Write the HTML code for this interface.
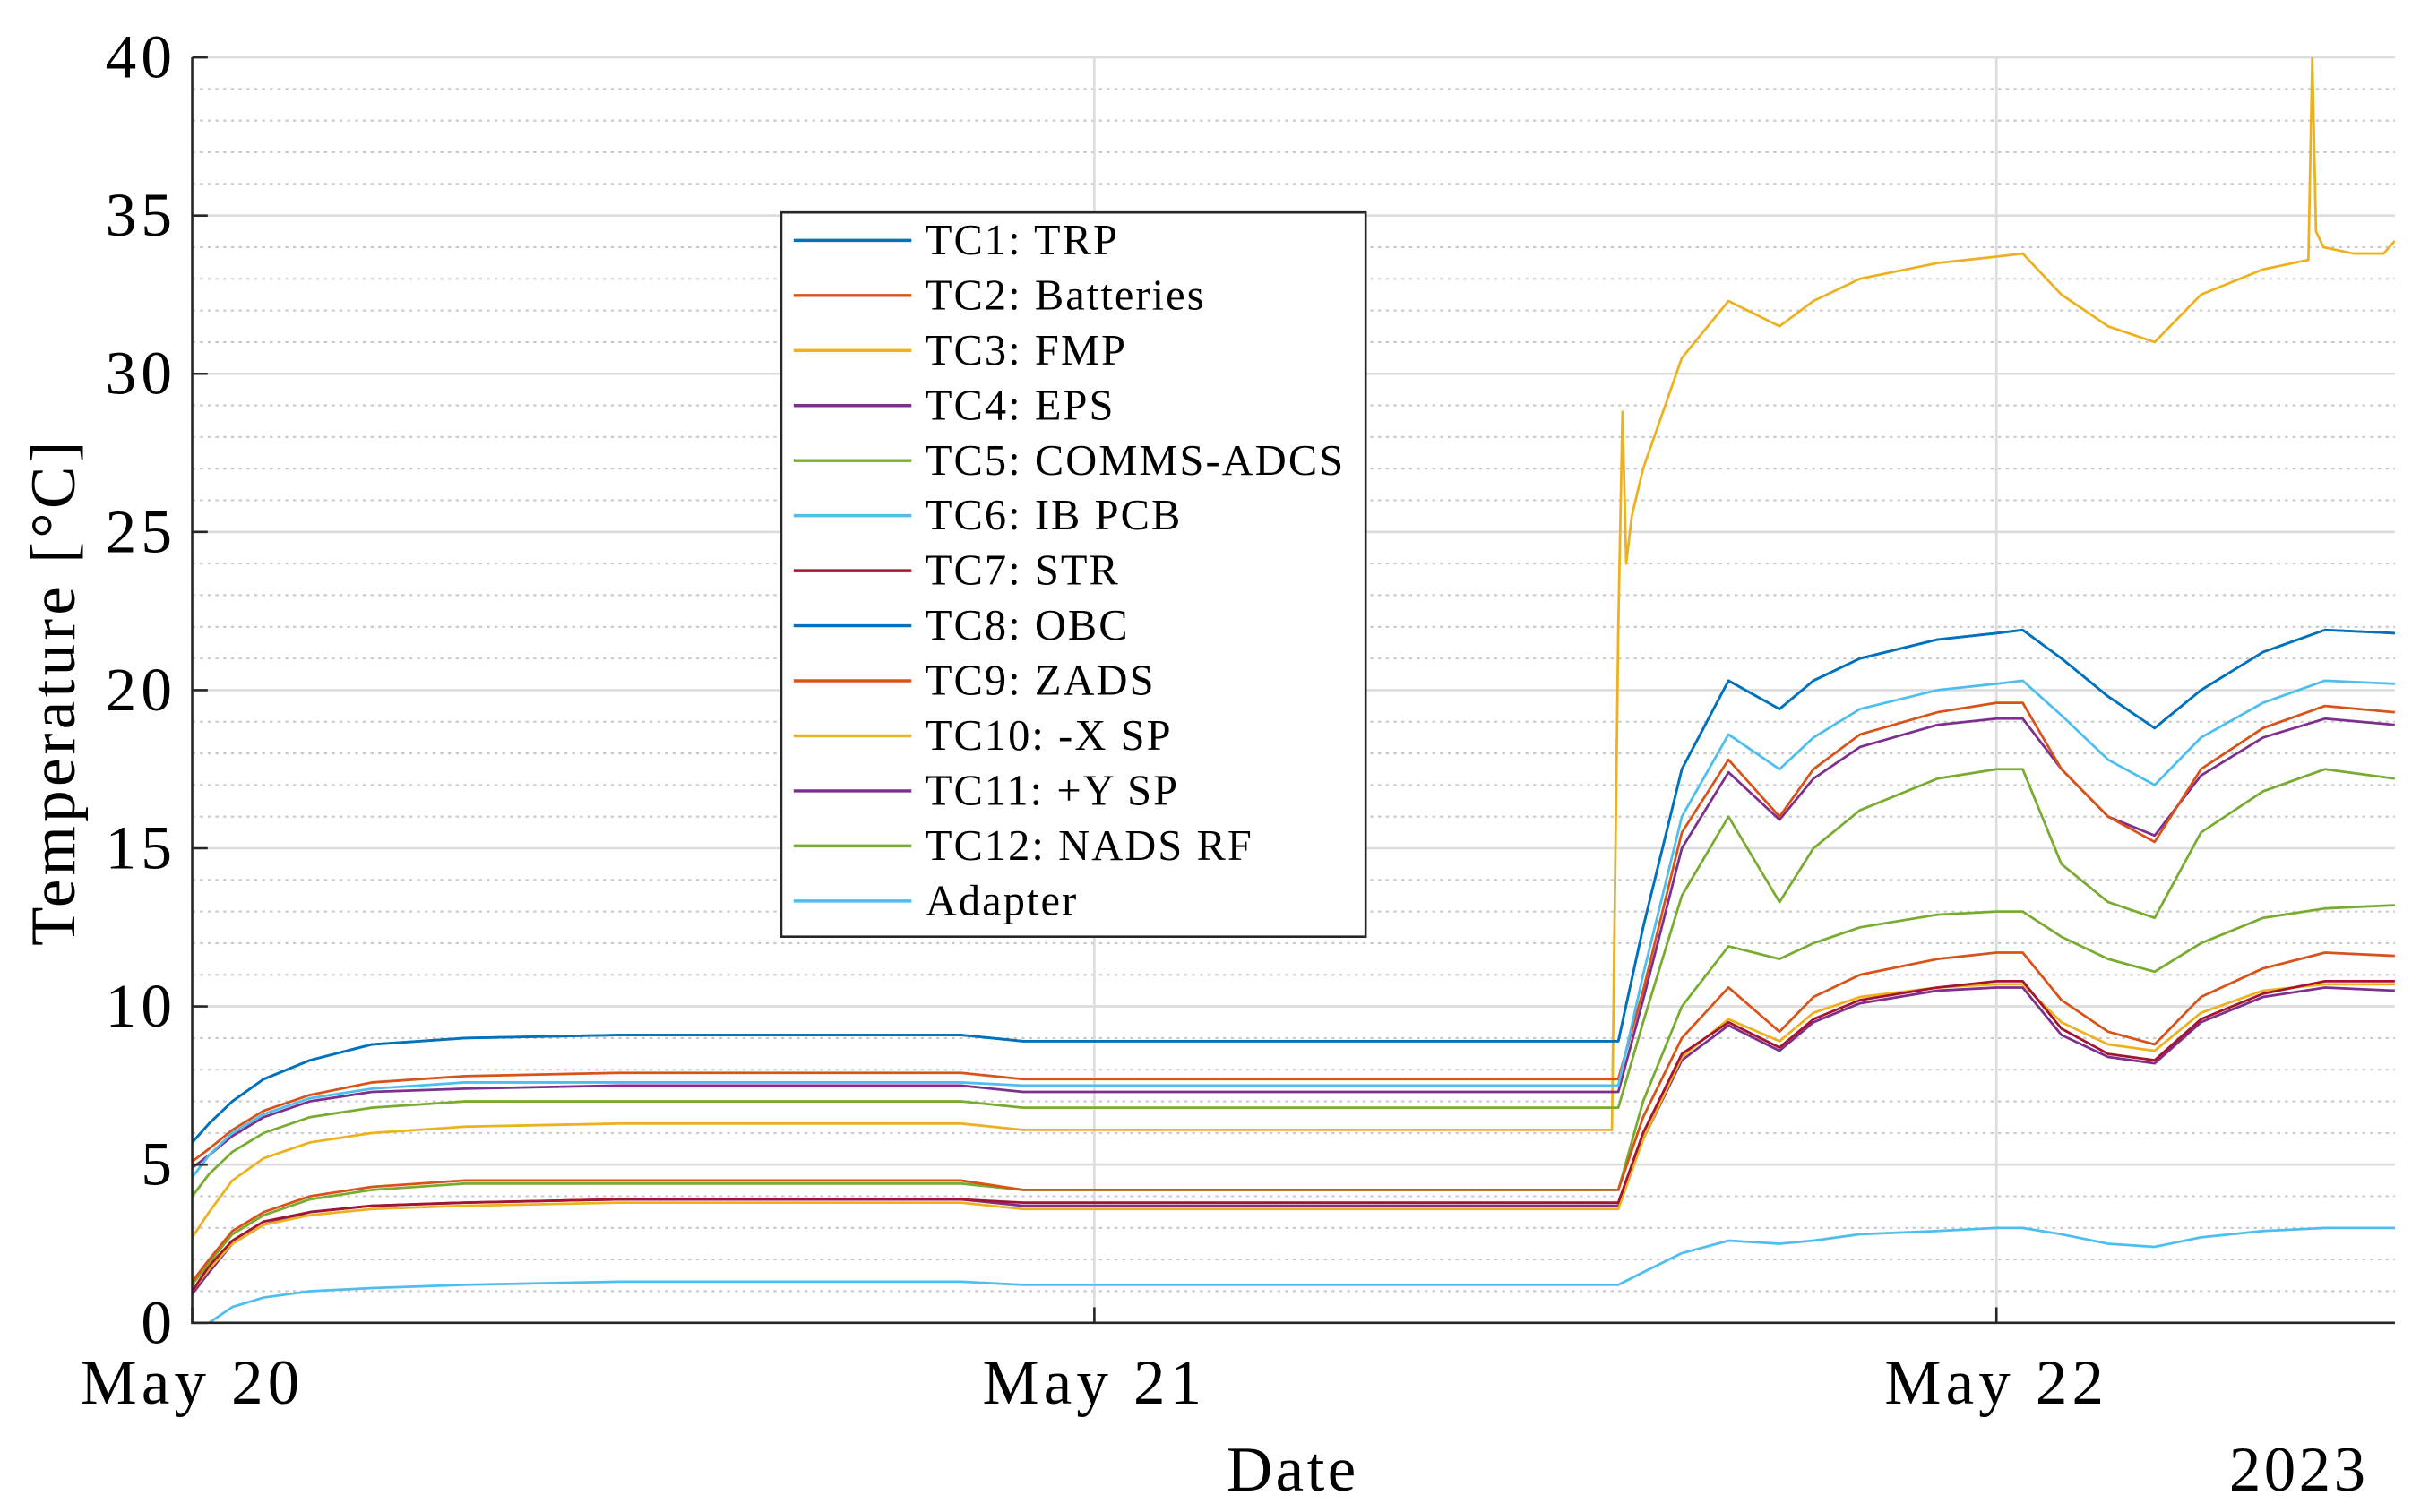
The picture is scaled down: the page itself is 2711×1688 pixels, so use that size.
<!DOCTYPE html>
<html><head><meta charset="utf-8"><style>
html,body{margin:0;padding:0;background:#fff;}
svg{display:block;font-family:"Liberation Serif",serif;}
</style></head><body>
<svg id="chart" width="2711" height="1688" viewBox="0 0 1567 975" preserveAspectRatio="none" xmlns="http://www.w3.org/2000/svg">
<defs><clipPath id="pc"><rect x="124" y="37" width="1421" height="816"/></clipPath></defs>
<rect width="1567" height="975" fill="#fff"/>
<g id="grid"></g>
<g id="series" clip-path="url(#pc)"></g>
<g id="axes"></g>
<g id="legend"></g>
</svg>
<script>
const T = [0,0.45,1.07,1.90,3.13,4.78,7.26,11.38,20.45,22.10,37.77,37.94,38.60,39.63,40.87,42.23,43.13,44.37,46.43,48.0,48.70,49.73,50.97,52.21,53.44,55.09,56.74,58.60];
const tc1 = [5.7,6.3,7.0,7.7,8.3,8.8,9.0,9.1,9.1,8.9,8.9,8.9,12.5,17.5,20.3,19.4,20.3,21.0,21.6,21.8,21.9,21.0,19.8,18.8,20.0,21.2,21.9,21.8];
const tc2 = [5.1,5.5,6.1,6.7,7.2,7.6,7.8,7.9,7.9,7.7,7.7,7.7,10.5,15.5,17.8,16.0,17.5,18.6,19.3,19.6,19.6,17.5,16.0,15.2,17.5,18.8,19.5,19.3];
const fmpT = [0,0.45,1.07,1.90,3.13,4.78,7.26,11.38,20.45,22.10,37.77,37.94,38.05,38.15,38.3,38.6,39.63,40.87,42.23,43.13,44.37,46.43,48.0,48.70,49.73,50.97,52.21,53.44,55.09,56.3,56.4,56.5,56.7,57.5,58.3,58.6];
const tc3 = [2.7,3.5,4.5,5.2,5.7,6.0,6.2,6.3,6.3,6.1,6.1,22.0,28.8,24.0,25.5,27.0,30.5,32.3,31.5,32.3,33.0,33.5,33.7,33.8,32.5,31.5,31.0,32.5,33.3,33.6,40.0,34.5,34.0,33.8,33.8,34.2];
const tc4 = [4.9,5.3,5.9,6.5,7.0,7.3,7.4,7.5,7.5,7.3,7.3,7.3,10.2,15.0,17.4,15.9,17.2,18.2,18.9,19.1,19.1,17.5,16.0,15.4,17.3,18.5,19.1,18.9];
const tc5 = [4.0,4.7,5.4,6.0,6.5,6.8,7.0,7.0,7.0,6.8,6.8,6.8,9.5,13.5,16.0,13.3,15.0,16.2,17.2,17.5,17.5,14.5,13.3,12.8,15.5,16.8,17.5,17.2];
const tc6 = [4.6,5.3,6.0,6.6,7.1,7.4,7.6,7.6,7.6,7.5,7.5,7.5,11.0,16.0,18.6,17.5,18.5,19.4,20.0,20.2,20.3,19.2,17.8,17.0,18.5,19.6,20.3,20.2];
const tc7 = [1.0,1.8,2.6,3.2,3.5,3.7,3.8,3.9,3.9,3.8,3.8,3.8,6.0,8.5,9.5,8.7,9.6,10.2,10.6,10.8,10.8,9.3,8.5,8.3,9.6,10.4,10.8,10.8];
const tc8 = [5.7,6.3,7.0,7.7,8.3,8.8,9.0,9.1,9.1,8.9,8.9,8.9,12.5,17.5,20.3,19.4,20.3,21.0,21.6,21.8,21.9,21.0,19.8,18.8,20.0,21.2,21.9,21.8];
const tc9 = [1.3,2.0,2.9,3.5,4.0,4.3,4.5,4.5,4.5,4.2,4.2,4.2,6.5,9.0,10.6,9.2,10.3,11.0,11.5,11.7,11.7,10.2,9.2,8.8,10.3,11.2,11.7,11.6];
const tc10 = [1.0,1.7,2.5,3.1,3.4,3.6,3.7,3.8,3.8,3.6,3.6,3.6,5.8,8.4,9.6,8.9,9.8,10.3,10.6,10.7,10.7,9.5,8.8,8.6,9.8,10.5,10.7,10.7];
const tc11 = [0.9,1.6,2.5,3.1,3.5,3.7,3.8,3.9,3.9,3.7,3.7,3.7,5.8,8.3,9.4,8.6,9.5,10.1,10.5,10.6,10.6,9.1,8.4,8.2,9.5,10.3,10.6,10.5];
const tc12 = [1.2,1.9,2.8,3.4,3.9,4.2,4.4,4.4,4.4,4.2,4.2,4.2,7.0,10.0,11.9,11.5,12.0,12.5,12.9,13.0,13.0,12.2,11.5,11.1,12.0,12.8,13.1,13.2];
const adapter = [-0.6,0.0,0.5,0.8,1.0,1.1,1.2,1.3,1.3,1.2,1.2,1.2,1.6,2.2,2.6,2.5,2.6,2.8,2.9,3.0,3.0,2.8,2.5,2.4,2.7,2.9,3.0,3.0];
const seriesNames = ["TC1: TRP","TC2: Batteries","TC3: FMP","TC4: EPS","TC5: COMMS-ADCS","TC6: IB PCB","TC7: STR","TC8: OBC","TC9: ZADS","TC10: -X SP","TC11: +Y SP","TC12: NADS RF","Adapter"];
const yTicks = [0,5,10,15,20,25,30,35,40];
const xTickHours = [0,24,48];
const xTickLabels = ["May 20","May 21","May 22"];

const NS="http://www.w3.org/2000/svg";
const X0=124,X1=1545,Y0=853,Y1=37,HMAX=58.6;
const xs=h=>X0+(h/HMAX)*(X1-X0);
const ys=v=>Y0-(v/40)*(Y0-Y1);
function mk(tag,attrs,parent){const e=document.createElementNS(NS,tag);for(const k in attrs)e.setAttribute(k,attrs[k]);parent.appendChild(e);return e;}
const grid=document.getElementById('grid'),axes=document.getElementById('axes'),ser=document.getElementById('series'),leg=document.getElementById('legend');
for(let v=1;v<40;v++){ if(v%5===0)continue;
  const l=mk('line',{x1:X0,x2:X1,y1:ys(v),y2:ys(v),stroke:'#c8c8c8','stroke-width':1.2,'stroke-dasharray':'2,3'},grid);
  
  }
yTicks.forEach(v=>{ if(v===0)return;
  const l=mk('line',{x1:X0,x2:X1,y1:ys(v),y2:ys(v),stroke:'#dcdcdc','stroke-width':1.5},grid);
  
  });
xTickHours.forEach(h=>{ if(h===0)return;
  const l=mk('line',{x1:xs(h),x2:xs(h),y1:Y1,y2:Y0,stroke:'#dcdcdc','stroke-width':1.5},grid);
  
  });
const colors=["#0072BD","#D95319","#EDB120","#7E2F8E","#77AC30","#4DBEEE","#A2142F","#0072BD","#D95319","#EDB120","#7E2F8E","#77AC30","#4DBEEE"];
const data=[tc1,tc2,tc3,tc4,tc5,tc6,tc7,tc8,tc9,tc10,tc11,tc12,adapter];
const drawOrder=[12,10,9,6,11,8,2,4,3,1,5,7,0];
drawOrder.forEach(i=>{
  const tt=(i===2)?fmpT:T;
  const pts=data[i].map((v,k)=>xs(tt[k]).toFixed(1)+','+ys(v).toFixed(1)).join(' ');
  const p=mk('polyline',{points:pts,fill:'none',stroke:colors[i],'stroke-width':1.6,'stroke-linejoin':'round'},ser);
  
  
});
const ax=mk('path',{d:`M${X0},${Y1} L${X0},${Y0} L${X1},${Y0}`,fill:'none',stroke:'#262626','stroke-width':1.5},axes);


yTicks.forEach(v=>{
  const tk=mk('line',{x1:X0,x2:X0+10,y1:ys(v),y2:ys(v),stroke:'#262626','stroke-width':1.5},axes);
  
  
  const t=mk('text',{x:X0-10,y:ys(v)+13,'text-anchor':'end','font-size':40,'letter-spacing':3,fill:'#000'},axes);
  t.textContent=v;
  
  
});
xTickHours.forEach((h,i)=>{
  const tk=mk('line',{x1:xs(h),x2:xs(h),y1:Y0,y2:Y0-10,stroke:'#262626','stroke-width':1.5},axes);
  
  
  const t=mk('text',{x:xs(h),y:905,'text-anchor':'middle','font-size':41,'letter-spacing':3,fill:'#000'},axes);
  t.textContent=xTickLabels[i];
  
  
});
let t=mk('text',{x:834,y:961,'text-anchor':'middle','font-size':41,'letter-spacing':2},axes);t.textContent='Date';


t=mk('text',{x:1528,y:961,'text-anchor':'end','font-size':41,'letter-spacing':2},axes);t.textContent='2023';


t=mk('text',{x:0,y:0,'text-anchor':'middle','font-size':41,'letter-spacing':2.5,transform:'translate(48,446) rotate(-90)'},axes);t.textContent='Temperature [°C]';


const box=mk('rect',{x:504,y:137,width:377,height:467,fill:'#fff',stroke:'#262626','stroke-width':1.5},leg);


seriesNames.forEach((n,i)=>{
  const y=155+i*35.5;
  const l=mk('line',{x1:512,x2:588,y1:y,y2:y,stroke:colors[i],'stroke-width':2},leg);
  
  
  const tx=mk('text',{x:597,y:y+9,'font-size':28,'letter-spacing':1.2},leg);
  tx.textContent=n;
  
  
});
</script>
</body></html>
